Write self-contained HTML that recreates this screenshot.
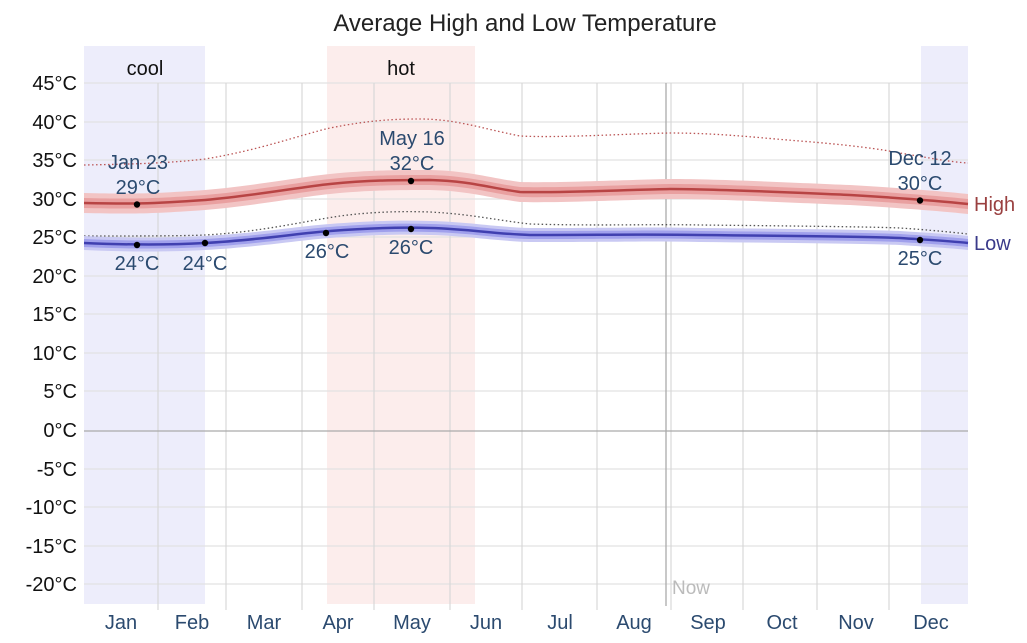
<!DOCTYPE html>
<html><head><meta charset="utf-8"><style>
body{margin:0;background:#fff}
svg{display:block;font-family:"Liberation Sans",sans-serif}
</style></head><body>
<svg width="1027" height="643" viewBox="0 0 1027 643">
<rect x="84" y="46" width="121" height="558" fill="#ededfb"/>
<rect x="327" y="46" width="148" height="558" fill="#fcedec"/>
<rect x="921" y="46" width="47" height="558" fill="#ededfb"/>
<g stroke="#e2e2e2" stroke-width="1.2">
<line x1="84" x2="968" y1="83" y2="83"/><line x1="84" x2="968" y1="122" y2="122"/>
<line x1="84" x2="968" y1="160" y2="160"/><line x1="84" x2="968" y1="199" y2="199"/>
<line x1="84" x2="968" y1="237" y2="237"/><line x1="84" x2="968" y1="276" y2="276"/>
<line x1="84" x2="968" y1="314" y2="314"/><line x1="84" x2="968" y1="353" y2="353"/>
<line x1="84" x2="968" y1="391" y2="391"/><line x1="84" x2="968" y1="469" y2="469"/>
<line x1="84" x2="968" y1="507" y2="507"/><line x1="84" x2="968" y1="546" y2="546"/>
<line x1="84" x2="968" y1="584" y2="584"/>
</g>
<g stroke="#d8d8d8" stroke-width="1.2">
<line x1="158" x2="158" y1="83" y2="610"/><line x1="226" x2="226" y1="83" y2="610"/>
<line x1="302" x2="302" y1="83" y2="610"/><line x1="374" x2="374" y1="83" y2="610"/>
<line x1="450" x2="450" y1="83" y2="610"/><line x1="522" x2="522" y1="83" y2="610"/>
<line x1="597" x2="597" y1="83" y2="610"/><line x1="671" x2="671" y1="83" y2="610"/>
<line x1="743" x2="743" y1="83" y2="610"/><line x1="817" x2="817" y1="83" y2="610"/>
<line x1="889" x2="889" y1="83" y2="610"/>
</g>
<line x1="84" x2="968" y1="431" y2="431" stroke="#aaa" stroke-width="1.3"/>
<line x1="666" x2="666" y1="83" y2="606" stroke="#aaa" stroke-width="1.3"/>
<text x="672" y="594" font-size="19" fill="#bbb">Now</text>

<path d="M84,165 C140,164 170,163 205,159 C260,150 300,135 330,128 C370,120 395,119 420,119 C455,119 480,128 520,136 C560,138 620,134 670,133 C720,133 760,138 800,141 C850,145 880,149 900,153 C930,158 950,162 968,163" fill="none" stroke="#b55" stroke-width="1.3" stroke-dasharray="1.5,2.5"/>
<path d="M84,236 C140,236 180,236 205,235 C260,232 300,222 340,216 C370,212 400,211 430,212 C470,214 495,220 530,224 C600,226 650,224 700,225 C800,226 880,227 900,228 C930,230 950,232 968,234" fill="none" stroke="#555" stroke-width="1.3" stroke-dasharray="1.5,2.5"/>

<path d="M84,193 C130,194 150,194 205,190 C260,185 300,177 330,174 C370,170 400,170 430,170 C470,171 490,178 520,182 C560,183 620,180 670,179 C720,179 800,183 850,185 C900,188 940,191 968,194 L968,214 C940,211 900,208 850,205 C800,203 720,199 670,199 C620,200 560,203 520,202 C490,198 470,191 430,190 C400,190 370,190 330,194 C300,197 260,205 205,210 C150,214 130,214 84,213 Z" fill="#f2c4c4"/>
<path d="M84,198 C130,199 150,199 205,195 C260,190 300,182 330,179 C370,175 400,175 430,175 C470,176 490,183 520,187 C560,188 620,185 670,184 C720,184 800,188 850,190 C900,193 940,196 968,199 L968,209 C940,206 900,203 850,200 C800,198 720,194 670,194 C620,195 560,198 520,197 C490,193 470,186 430,185 C400,185 370,185 330,189 C300,192 260,200 205,205 C150,209 130,209 84,208 Z" fill="#e9a0a0"/>
<path d="M84,203 C130,204 150,204 205,200 C260,195 300,187 330,184 C370,180 400,180 430,180 C470,181 490,188 520,192 C560,193 620,190 670,189 C720,189 800,193 850,195 C900,198 940,201 968,204" fill="none" stroke="#b84444" stroke-width="2.5"/>

<path d="M84,236 C130,238 170,238 205,236 C260,233 300,226 330,224 C370,221 400,220 430,221 C470,222 495,227 530,228 C600,228 650,227 700,228 C800,229 880,230 900,231 C930,233 950,234 968,236 L968,250 C950,248 930,247 900,245 C880,244 800,243 700,242 C650,241 600,242 530,242 C495,241 470,236 430,235 C400,234 370,235 330,238 C300,240 260,247 205,250 C170,252 130,252 84,250 Z" fill="#c9c9f3"/>
<path d="M84,239 C130,241 170,241 205,239 C260,236 300,229 330,227 C370,224 400,223 430,224 C470,225 495,230 530,231 C600,231 650,230 700,231 C800,232 880,233 900,234 C930,236 950,237 968,239 L968,247 C950,245 930,244 900,242 C880,241 800,240 700,239 C650,238 600,239 530,239 C495,238 470,233 430,232 C400,231 370,232 330,235 C300,237 260,244 205,247 C170,249 130,249 84,247 Z" fill="#a0a0ec"/>
<path d="M84,243 C130,245 170,245 205,243 C260,240 300,233 330,231 C370,228 400,227 430,228 C470,229 495,234 530,235 C600,235 650,234 700,235 C800,236 880,237 900,238 C930,240 950,241 968,243" fill="none" stroke="#4040b0" stroke-width="2.5"/>

<g fill="#000">
<circle cx="137" cy="204.5" r="3.2"/><circle cx="411" cy="181" r="3.2"/><circle cx="920" cy="200.5" r="3.2"/>
<circle cx="137" cy="245" r="3.2"/><circle cx="205" cy="243" r="3.2"/><circle cx="326" cy="233" r="3.2"/>
<circle cx="411" cy="229" r="3.2"/><circle cx="920" cy="240" r="3.2"/>
</g>

<g font-size="20" fill="#2b4a6f" text-anchor="middle">
<text x="138" y="169">Jan 23</text><text x="138" y="194">29°C</text>
<text x="412" y="145">May 16</text><text x="412" y="170">32°C</text>
<text x="920" y="165">Dec 12</text><text x="920" y="190">30°C</text>
<text x="137" y="270">24°C</text><text x="205" y="270">24°C</text>
<text x="327" y="258">26°C</text><text x="411" y="254">26°C</text>
<text x="920" y="265">25°C</text>
</g>
<text x="974" y="211" font-size="20" fill="#9a4040">High</text>
<text x="974" y="250" font-size="20" fill="#3a3a8a">Low</text>
<text x="145" y="75" font-size="20" fill="#111" text-anchor="middle">cool</text>
<text x="401" y="75" font-size="20" fill="#111" text-anchor="middle">hot</text>
<text x="525" y="31" font-size="24" fill="#222" text-anchor="middle">Average High and Low Temperature</text>

<g font-size="20" fill="#111" text-anchor="end">
<text x="77" y="90">45°C</text><text x="77" y="129">40°C</text><text x="77" y="167">35°C</text>
<text x="77" y="206">30°C</text><text x="77" y="244">25°C</text><text x="77" y="283">20°C</text>
<text x="77" y="321">15°C</text><text x="77" y="360">10°C</text><text x="77" y="398">5°C</text>
<text x="77" y="437">0°C</text><text x="77" y="476">-5°C</text><text x="77" y="514">-10°C</text>
<text x="77" y="553">-15°C</text><text x="77" y="591">-20°C</text>
</g>
<g font-size="20" fill="#2b4a6f" text-anchor="middle">
<text x="121" y="629">Jan</text><text x="192" y="629">Feb</text><text x="264" y="629">Mar</text>
<text x="338" y="629">Apr</text><text x="412" y="629">May</text><text x="486" y="629">Jun</text>
<text x="560" y="629">Jul</text><text x="634" y="629">Aug</text><text x="708" y="629">Sep</text>
<text x="782" y="629">Oct</text><text x="856" y="629">Nov</text><text x="931" y="629">Dec</text>
</g>
</svg>
</body></html>
